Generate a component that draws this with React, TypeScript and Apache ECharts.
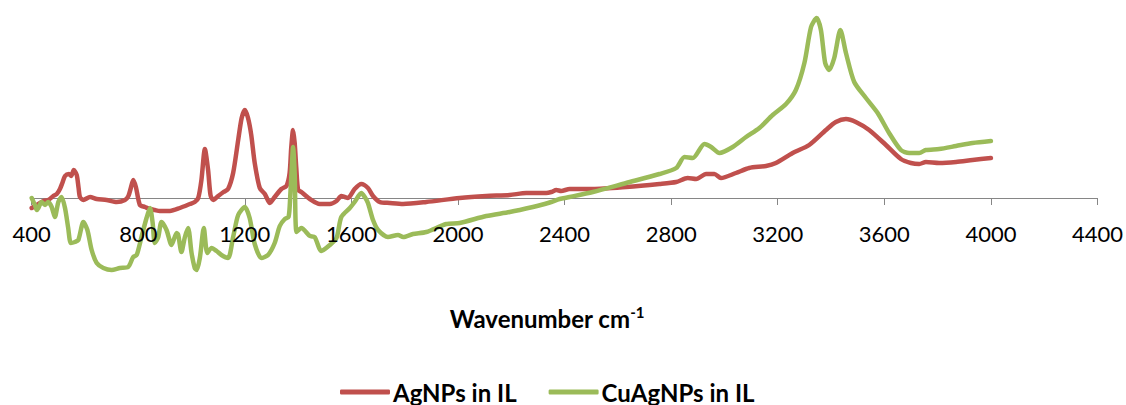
import React, { useEffect, useRef } from "react";
import * as echarts from "echarts";

// Wavenumber (cm-1) / signal pairs
const agWave = [400,425,444,462,481,494,506,515,525,540,548,558,569,576,581,594,619,644,681,719,750,763,771,781,791,806,825,844,862,881,919,956,994,1012,1025,1037,1050,1062,1071,1081,1100,1120,1137,1156,1175,1188,1200,1212,1224,1237,1256,1275,1294,1312,1337,1356,1368,1374,1381,1387,1393,1400,1412,1444,1481,1519,1544,1562,1575,1587,1612,1637,1662,1681,1706,1744,1794,1881,2006,2106,2194,2256,2331,2350,2369,2387,2419,2506,2631,2756,2819,2862,2894,2931,2962,2987,3043,3093,3156,3193,3256,3318,3381,3418,3456,3493,3543,3606,3662,3700,3731,3756,3806,3869,3931,4000];
const agValues = [-10,-6,-3,-2,2,4,9,15,22,24,22,28,23,10,1,-2,1,-1,-2,-4,-2,2,9,18,11,-7,-9,-11,-12,-13,-13,-10,-6,-4,0,18,49,28,3,-2,2,6,9,25,58,80,88,80,63,35,10,4,-5,1,9,12,25,50,68,55,30,8,6,-1,-6,-6,-3,2,1,0,9,14,10,2,-4,-5,-6,-4,0,2,3,5,5,6,8,7,9,9,11,14,16,20,19,24,24,20,25,30,32,35,45,53,68,76,79,76,68,53,39,35,34,36,35,36,38,40];

const cuWave = [400,412,419,425,437,450,462,475,487,500,512,525,537,547,562,575,594,609,625,644,669,700,731,762,781,794,812,831,844,854,862,875,887,906,925,944,950,962,975,987,1000,1012,1019,1031,1046,1059,1075,1094,1112,1137,1156,1175,1200,1218,1237,1262,1287,1312,1331,1350,1364,1370,1376,1381,1387,1394,1412,1444,1462,1487,1519,1544,1562,1594,1612,1637,1650,1662,1681,1700,1737,1775,1794,1831,1881,1956,2006,2106,2194,2281,2325,2350,2381,2419,2506,2631,2756,2819,2850,2881,2925,2950,2981,3031,3081,3131,3181,3231,3268,3300,3325,3346,3362,3378,3393,3412,3435,3456,3487,3531,3575,3618,3662,3693,3731,3756,3806,3869,3931,4000];
const cuValues = [0,-7,-12,-10,-4,-7,-4,-9,-19,-4,1,-10,-30,-45,-44,-42,-24,-32,-52,-65,-70,-72,-70,-69,-59,-57,-39,-20,-10,-25,-45,-39,-24,-32,-47,-35,-37,-54,-39,-30,-55,-70,-72,-60,-30,-55,-50,-53,-57,-60,-39,-17,-9,-20,-46,-60,-57,-45,-28,-21,-19,0,30,51,25,-34,-30,-38,-39,-53,-47,-40,-19,-10,-4,5,1,-5,-22,-32,-39,-37,-39,-36,-34,-26,-25,-18,-14,-9,-6,-4,-1,1,6,15,24,30,41,40,54,51,45,51,61,70,83,94,108,135,171,180,168,135,128,140,168,145,116,100,85,65,48,45,45,48,49,52,55,57];

const seriesNames = ["AgNPs in IL", "CuAgNPs in IL"];
const xTicks = { min: 400, max: 4400, interval: 400 };

const zip = (xs: number[], ys: number[]) => xs.map((x, i) => [x, ys[i]]);

export default function App() {
  const ref = useRef<HTMLDivElement>(null);
  useEffect(() => {
    if (!ref.current) return;
    const chart = echarts.init(ref.current, undefined, { renderer: "svg" });
    const font = "Lato, 'Open Sans', sans-serif";
    chart.setOption({
      animation: false,
      backgroundColor: "#ffffff",
      grid: { left: 31.7, right: 27.7, top: 8, bottom: 127 },
      xAxis: [
        {
          type: "value",
          min: xTicks.min,
          max: xTicks.max,
          interval: xTicks.interval,
          z: 0,
          axisLine: { show: true, onZero: true, lineStyle: { color: "#868686", width: 1 } },
          axisTick: { show: true, length: 7, lineStyle: { color: "#868686", width: 1 } },
          axisLabel: { show: false },
          splitLine: { show: false },
        },
        {
          type: "value",
          position: "bottom",
          min: xTicks.min,
          max: xTicks.max,
          interval: xTicks.interval,
          offset: -80,
          z: 5,
          axisLine: { show: false, onZero: false },
          axisTick: { show: false },
          splitLine: { show: false },
          axisLabel: {
            show: true,
            margin: 24,
            fontSize: 22,
            fontFamily: font,
            color: "#000000",
            formatter: (v: number) => String(v),
          },
        },
      ],
      yAxis: { type: "value", min: -80, max: 190, show: false },
      legend: {
        data: seriesNames.map((name) => ({ name, icon: "roundRect" })),
        left: 340,
        top: 380,
        itemWidth: 50,
        itemHeight: 5,
        itemGap: 32,
        padding: 0,
        textStyle: { fontSize: 24, fontWeight: "bold", fontFamily: font, color: "#000000", padding: [0, 0, 0, -2] },
      },
      series: [
        {
          name: seriesNames[0],
          type: "line",
          xAxisIndex: 0,
          data: zip(agWave, agValues),
          symbol: "none",
          smooth: 0.25,
          lineStyle: { color: "#C0504D", width: 4.5, cap: "round", join: "round" },
          itemStyle: { color: "#C0504D" },
          z: 2,
        },
        {
          name: seriesNames[1],
          type: "line",
          xAxisIndex: 0,
          data: zip(cuWave, cuValues),
          symbol: "none",
          smooth: 0.25,
          lineStyle: { color: "#9BBB59", width: 4.5, cap: "round", join: "round" },
          itemStyle: { color: "#9BBB59" },
          z: 3,
        },
      ],
      graphic: [
        {
          type: "text",
          x: 547,
          y: 318,
          style: {
            text: "{a|Wavenumber cm}{b|-1}",
            align: "center",
            verticalAlign: "middle",
            fontFamily: font,
            rich: {
              a: { fontSize: 24, fontWeight: "bold", fontFamily: font, color: "#000000", lineHeight: 28 },
              b: { fontSize: 15, fontWeight: "bold", fontFamily: font, color: "#000000", lineHeight: 14, verticalAlign: "top" },
            },
          },
        },
      ],
    });
    return () => chart.dispose();
  }, []);
  return (
    <div
      ref={ref}
      style={{ position: "fixed", left: 0, top: 0, width: 1126, height: 405, background: "#ffffff" }}
    />
  );
}
